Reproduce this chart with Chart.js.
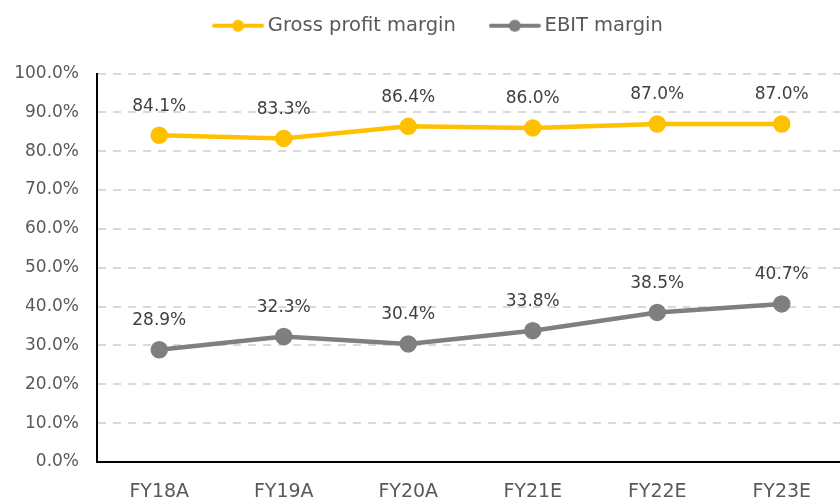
<!DOCTYPE html>
<html>
<head>
<meta charset="utf-8">
<script src="https://cdn.jsdelivr.net/npm/chart.js@4"></script>
<style>
  html, body { margin: 0; padding: 0; background: #fff; overflow: hidden; }
  #wrap { width: 855px; height: 497px; }
</style>
</head>
<body>
<div id="wrap"><canvas id="lineChart"></canvas></div>
<script>
const labels = ['FY18A', 'FY19A', 'FY20A', 'FY21E', 'FY22E', 'FY23E'];
const grossMargin = [84.1, 83.3, 86.4, 86.0, 87.0, 87.0];
const ebitMargin = [28.9, 32.3, 30.4, 33.8, 38.5, 40.7];

const gold = '#FFC000';
const grey = '#7F7F7F';
const textColor = '#595959';
const font = 'DejaVu Sans';

// legend marker: line with a dot in the middle
function legendIcon(color) {
    const c = document.createElement('canvas');
    c.width = 52; c.height = 14;
    const ctx = c.getContext('2d');
    ctx.strokeStyle = color;
    ctx.lineWidth = 4;
    ctx.lineCap = 'round';
    ctx.beginPath();
    ctx.moveTo(2, 7); ctx.lineTo(50, 7);
    ctx.stroke();
    ctx.fillStyle = color;
    ctx.beginPath();
    ctx.arc(26, 7, 6, 0, Math.PI * 2);
    ctx.fill();
    return c;
}

// value labels above points
const valueLabels = {
    id: 'valueLabels',
    afterDatasetsDraw(chart) {
        const ctx = chart.ctx;
        ctx.save();
        ctx.font = '17px "' + font + '"';
        ctx.fillStyle = '#404040';
        ctx.textAlign = 'center';
        ctx.textBaseline = 'middle';
        chart.data.datasets.forEach((ds, i) => {
            chart.getDatasetMeta(i).data.forEach((pt, j) => {
                ctx.fillText(ds.data[j].toFixed(1) + '%', pt.x, pt.y - 29);
            });
        });
        ctx.restore();
    }
};

// extra room under the legend, legend nudged right
const legendGap = {
    id: 'legendGap',
    afterInit(chart) {
        const fit = chart.legend.fit;
        chart.legend.fit = function () {
            fit.call(this);
            this.height += 28;
        };
    },
    afterLayout(chart) {
        chart.legend.left += 13;
        chart.legend.right += 13;
    }
};

new Chart(document.getElementById('lineChart'), {
    type: 'line',
    data: {
        labels: labels,
        datasets: [
            {
                label: 'Gross profit margin',
                data: grossMargin,
                borderColor: gold,
                backgroundColor: gold,
                borderWidth: 4.5,
                pointRadius: 6.5,
                tension: 0
            },
            {
                label: 'EBIT margin',
                data: ebitMargin,
                borderColor: grey,
                backgroundColor: grey,
                borderWidth: 4.5,
                pointRadius: 6.5,
                tension: 0
            }
        ]
    },
    options: {
        responsive: true,
        maintainAspectRatio: false,
        animation: false,
        layout: { padding: { top: -23, right: 0, left: 0, bottom: 0 } },
        plugins: {
            legend: {
                position: 'top',
                labels: {
                    usePointStyle: true,
                    pointStyleWidth: 40,
                    padding: 39,
                    color: textColor,
                    font: { family: font, size: 19.5 },
                    generateLabels(chart) {
                        return chart.data.datasets.map((ds, i) => ({
                            text: ds.label,
                            fontColor: textColor,
                            pointStyle: legendIcon(ds.borderColor),
                            datasetIndex: i,
                            lineWidth: 0,
                            hidden: false
                        }));
                    }
                }
            },
            tooltip: { enabled: false }
        },
        scales: {
            x: {
                offset: true,
                grid: { display: false, drawTicks: false },
                border: { color: '#000', width: 2 },
                ticks: { color: textColor, font: { family: font, size: 19 }, padding: 19 },
                afterFit(scale) {
                    scale.height = 35;
                    scale.paddingLeft = 0;
                    scale.paddingRight = 0;
                }
            },
            y: {
                min: 0,
                max: 100,
                ticks: {
                    stepSize: 10,
                    color: textColor,
                    font: { family: font, size: 17 },
                    padding: 18,
                    callback: v => v.toFixed(1) + '%'
                },
                grid: { color: '#D9D9D9', lineWidth: 2, drawTicks: false },
                border: { color: '#000', width: 2, dash: [8, 7] },
                afterFit(scale) { scale.width = 97; }
            }
        }
    },
    plugins: [valueLabels, legendGap]
});
</script>
</body>
</html>
